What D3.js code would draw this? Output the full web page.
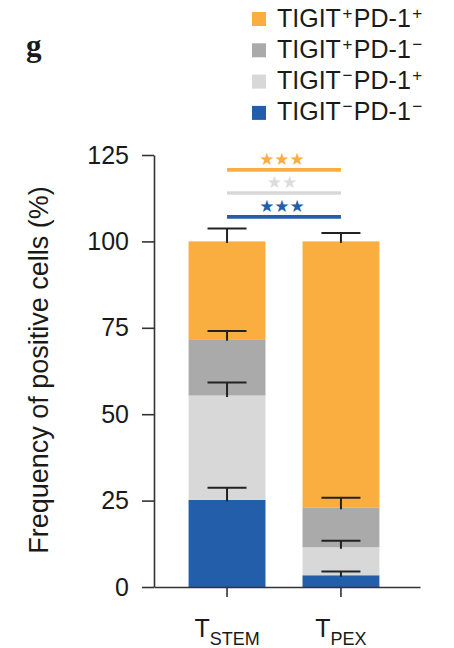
<!DOCTYPE html>
<html>
<head>
<meta charset="utf-8">
<script src="https://cdn.jsdelivr.net/npm/d3@7"></script>
<style>
  html, body { margin: 0; padding: 0; background: #fff; }
  svg { display: block; }
  text { font-family: "Liberation Sans", Arial, Helvetica, sans-serif; }
</style>
</head>
<body>
<svg id="chart" width="454" height="648"></svg>
<script>
// Cell groups, stacked bottom to top
const seriesKeys = ["nn", "np", "pn", "pp"];
const seriesColors = ["#235EAA", "#D8D8D8", "#AAAAAA", "#FBAE40"];
// Legend signs: [TIGIT sign, PD-1 sign]
const seriesSigns = [["−", "−"], ["−", "+"], ["+", "−"], ["+", "+"]];

// Populations on the x axis
const categories = ["TSTEM", "TPEX"];
const categoryMain = ["T", "T"];
const categorySub = ["STEM", "PEX"];

// Mean frequency (%) of each group, bottom to top
const tstemValues = [25.2, 30.2, 16.3, 28.3];
const tpexValues = [3.4, 8.1, 11.4, 77.1];
// Error (SEM) of each group
const tstemErrors = [3.5, 3.8, 2.4, 3.7];
const tpexErrors = [1.1, 1.9, 2.9, 2.4];

// Y axis ticks
const yTicks = [0, 25, 50, 75, 100, 125];

// Significance brackets between TSTEM and TPEX
const sigKeys = ["pp", "np", "nn"];
const sigLabels = ["***", "**", "***"];
const sigLevels = [120.7, 114.0, 107.1];
const sigStarColors = ["#FBAE40", "#DCDCDC", "#235EAA"];

const ink = "#1a1a1a";
const svg = d3.select("#chart");
const plot = { left: 154, right: 420, top: 155, bottom: 587 };

const table = categories.map((c, i) => {
  const vals = i === 0 ? tstemValues : tpexValues;
  const errs = i === 0 ? tstemErrors : tpexErrors;
  const row = { category: c };
  seriesKeys.forEach((k, j) => { row[k] = vals[j]; row[k + "_err"] = errs[j]; });
  return row;
});

const x = d3.scaleBand()
  .domain(categories)
  .range([plot.left, plot.right])
  .paddingInner(0.325)
  .paddingOuter(0.33)
  .align(0.46);

const y = d3.scaleLinear().domain([0, 125]).range([plot.bottom, plot.top]);
const color = d3.scaleOrdinal().domain(seriesKeys).range(seriesColors);

const stacked = d3.stack().keys(seriesKeys)(table);

// Bars
svg.append("g").selectAll("g")
  .data(stacked)
  .join("g")
  .attr("fill", d => color(d.key))
  .selectAll("rect")
  .data(d => d)
  .join("rect")
  .attr("x", d => x(d.data.category))
  .attr("width", x.bandwidth())
  .attr("y", d => y(d[1]))
  .attr("height", d => y(d[0]) - y(d[1]));

// Error bars (upper whisker only)
const capHalf = 19.5;
const errG = svg.append("g").attr("stroke", "#222").attr("stroke-width", 2).attr("fill", "none");
stacked.forEach(layer => {
  layer.forEach(d => {
    const cx = x(d.data.category) + x.bandwidth() / 2;
    const top = d[1] + d.data[layer.key + "_err"];
    errG.append("line")
      .attr("x1", cx).attr("x2", cx)
      .attr("y1", y(d[1]) + 1.5).attr("y2", y(top));
    errG.append("line")
      .attr("x1", cx - capHalf).attr("x2", cx + capHalf)
      .attr("y1", y(top)).attr("y2", y(top));
  });
});

// Y axis
const yAxis = d3.axisLeft(y)
  .tickValues(yTicks)
  .tickSize(12)
  .tickSizeOuter(0)
  .tickPadding(13);
const yg = svg.append("g")
  .attr("transform", `translate(${plot.left},0)`)
  .call(yAxis);
yg.selectAll("path, line").attr("stroke", "#333").attr("stroke-width", 1.6);
yg.selectAll("text")
  .style("font-family", "'Liberation Sans', Arial, sans-serif")
  .style("font-size", "25px")
  .style("fill", ink);

// X axis
const xAxis = d3.axisBottom(x)
  .tickSize(10)
  .tickSizeOuter(0)
  .tickFormat("");
const xg = svg.append("g")
  .attr("transform", `translate(0,${plot.bottom})`)
  .call(xAxis);
xg.selectAll("path, line").attr("stroke", "#333").attr("stroke-width", 1.6);

// Category labels with subscripts
categories.forEach((c, i) => {
  const t = svg.append("text")
    .attr("x", x(c) + x.bandwidth() / 2)
    .attr("y", 637)
    .attr("text-anchor", "middle")
    .style("font-size", "25px")
    .style("fill", ink);
  t.append("tspan").text(categoryMain[i]);
  t.append("tspan").attr("dy", 8).style("font-size", "18px").text(categorySub[i]);
});

// Y axis title
svg.append("text")
  .attr("transform", "translate(48,370) rotate(-90)")
  .attr("text-anchor", "middle")
  .style("font-size", "27px")
  .style("fill", ink)
  .text("Frequency of positive cells (%)");

// Significance brackets
sigKeys.forEach((k, i) => {
  const x1 = x(categories[0]) + x.bandwidth() / 2;
  const x2 = x(categories[1]) + x.bandwidth() / 2;
  const ly = y(sigLevels[i]);
  svg.append("line")
    .attr("x1", x1).attr("x2", x2)
    .attr("y1", ly).attr("y2", ly)
    .attr("stroke", color(k))
    .attr("stroke-width", 3.6);
  svg.append("text")
    .attr("x", (x1 + x2) / 2 - 2)
    .attr("y", ly - 5)
    .attr("text-anchor", "middle")
    .style("font-family", "'DejaVu Sans', sans-serif")
    .style("font-size", "17px")
    .style("fill", sigStarColors[i])
    .text(sigLabels[i].replace(/\*/g, "★"));
});

// Legend, top to bottom
const legendOrder = seriesKeys.slice().reverse();
legendOrder.forEach((k, i) => {
  const idx = seriesKeys.indexOf(k);
  const base = 26.5 + i * 31.3;
  svg.append("rect")
    .attr("x", 252).attr("y", base - 14.5)
    .attr("width", 14).attr("height", 14)
    .attr("fill", color(k));
  const t = svg.append("text")
    .attr("x", 277).attr("y", base)
    .style("font-size", "25px")
    .style("fill", ink);
  t.append("tspan").text("TIGIT");
  t.append("tspan").attr("dx", 1.5).attr("dy", -8).style("font-size", "17px").text(seriesSigns[idx][0]);
  t.append("tspan").attr("dx", 1.5).attr("dy", 8).text("PD-1");
  t.append("tspan").attr("dx", 1.5).attr("dy", -8).style("font-size", "17px").text(seriesSigns[idx][1]);
});

// Panel letter
svg.append("text")
  .attr("x", 26).attr("y", 56)
  .style("font-family", "'Liberation Serif', 'Times New Roman', serif")
  .style("font-weight", "bold")
  .style("font-size", "31px")
  .style("fill", ink)
  .text("g");
</script>
</body>
</html>
